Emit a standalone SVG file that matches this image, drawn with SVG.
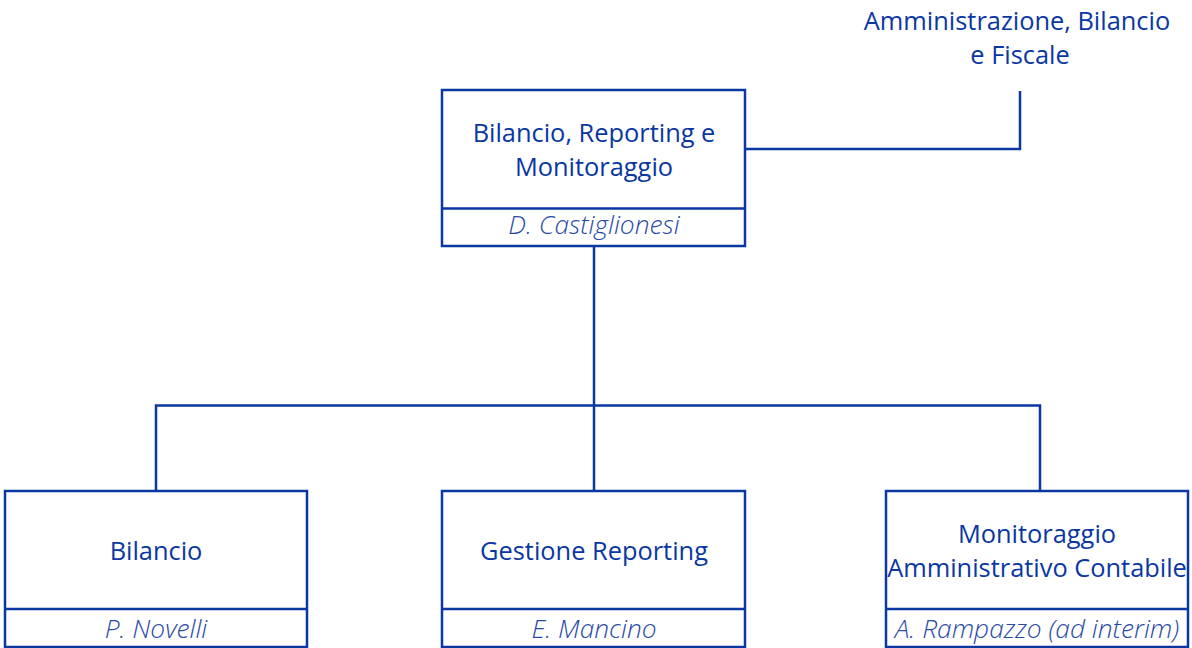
<svg xmlns="http://www.w3.org/2000/svg" width="1192" height="648" viewBox="0 0 1192 648">
<style>
.box{fill:#fff;stroke:#0a37a2;stroke-width:2.5}
.ln{fill:none;stroke:#0a37a2;stroke-width:2.5}
.t{font-family:"Open Sans",sans-serif;font-size:25.4px;fill:#0a37a2;text-anchor:middle}
.n{font-family:"Open Sans",sans-serif;font-size:26.3px;font-style:italic;font-weight:300;fill:#2a4aa6;text-anchor:middle}
</style>
<rect width="1192" height="648" fill="#fff"/>
<g id="connectors">
<polyline class="ln" points="745,149 1020,149 1020,91"/>
<line class="ln" x1="594" y1="246" x2="594" y2="491"/>
<polyline class="ln" points="156,491 156,405.5 1040,405.5 1040,494"/>
</g>
<g id="parent">
<text class="t" x="1017" y="30">Amministrazione, Bilancio</text>
<text class="t" x="1020" y="64">e Fiscale</text>
</g>
<g id="n-top">
<rect class="box" x="442" y="90" width="303" height="156"/>
<line class="ln" x1="442" y1="208.5" x2="745" y2="208.5"/>
<text class="t" x="594" y="142">Bilancio, Reporting e</text>
<text class="t" x="594" y="176">Monitoraggio</text>
<text class="n" x="594" y="234">D. Castiglionesi</text>
</g>
<g id="n-bilancio">
<rect class="box" x="5" y="491" width="302" height="156"/>
<line class="ln" x1="5" y1="609" x2="307" y2="609"/>
<text class="t" x="156" y="560">Bilancio</text>
<text class="n" x="156" y="638">P. Novelli</text>
</g>
<g id="n-reporting">
<rect class="box" x="442" y="491" width="303" height="156"/>
<line class="ln" x1="442" y1="609" x2="745" y2="609"/>
<text class="t" x="594" y="560">Gestione Reporting</text>
<text class="n" x="594" y="638">E. Mancino</text>
</g>
<g id="n-monitoraggio">
<rect class="box" x="886" y="491" width="302" height="156"/>
<line class="ln" x1="886" y1="609" x2="1188" y2="609"/>
<text class="t" x="1037" y="543">Monitoraggio</text>
<text class="t" x="1037" y="577">Amministrativo Contabile</text>
<text class="n" x="1037" y="638">A. Rampazzo (ad interim)</text>
</g>
</svg>
